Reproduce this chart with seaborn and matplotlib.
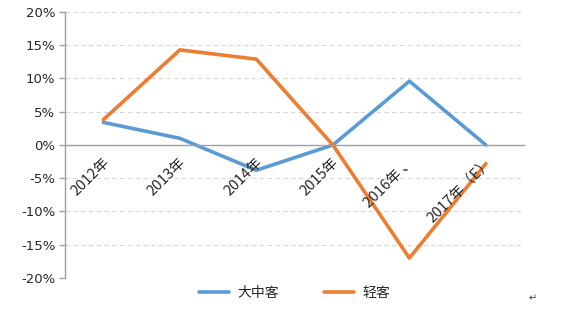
import matplotlib
matplotlib.use("Agg")
import matplotlib.pyplot as plt
import seaborn as sns
import pandas as pd
import numpy as np

categories = ["2012年", "2013年", "2014年", "2015年", "2016年 、", "2017年（E）"]
series_names = ["大中客", "轻客"]
big_mid = [3.4, 1.0, -3.8, 0.0, 9.6, 0.0]
light = [3.8, 14.3, 12.9, 0.0, -17.0, -2.8]
yticks = [-20, -15, -10, -5, 0, 5, 10, 15, 20]
colors = ["#5B9BD5", "#ED7D31"]

sns.set_theme(style="white")
plt.rcParams["font.family"] = ["DejaVu Sans", "Noto Sans CJK SC"]

df = pd.DataFrame({
    "year": categories * 2,
    "value": big_mid + light,
    "series": [series_names[0]] * len(categories) + [series_names[1]] * len(categories),
})

fig = plt.figure(figsize=(5.76, 3.09), dpi=100)
ax = fig.add_axes([0.113, 0.1003, 0.797, 0.861])

sns.lineplot(data=df, x="year", y="value", hue="series", palette=colors,
             linewidth=2.6, ax=ax, sort=False, legend=True)

ax.set_xlim(-0.5, len(categories) - 0.5)
ax.set_ylim(-20, 20)
ax.set_yticks(yticks)
ax.set_yticklabels([f"{v}%" for v in yticks], fontsize=9.5, color="#262626")
for v in yticks:
    if v != 0:
        ax.axhline(v, color="#D6D6D6", linestyle=(0, (4, 3)), linewidth=0.8, zorder=0)

ax.spines["bottom"].set_position(("data", 0))
ax.spines["bottom"].set_color("#A0A0A0")
ax.spines["left"].set_color("#A0A0A0")
ax.spines["bottom"].set_linewidth(1.0)
ax.spines["left"].set_linewidth(1.0)
ax.spines["top"].set_visible(False)
ax.spines["right"].set_visible(False)
ax.set_xticks(np.arange(-0.5, len(categories), 1.0))
ax.set_xticklabels([])
ax.tick_params(axis="x", direction="out", length=4, color="#A0A0A0", width=1.0)
ax.tick_params(axis="y", direction="out", length=4, color="#A0A0A0", width=1.0, pad=3, left=True)
ax.set_xlabel("")
ax.set_ylabel("")

for i, lab in enumerate(categories):
    ax.annotate(lab, xy=(i, 0), xytext=(-1, -7), textcoords="offset points",
                rotation=45, rotation_mode="anchor", ha="right", va="top",
                fontsize=10.5, color="#262626",
                family=["Noto Sans CJK SC", "DejaVu Sans"])

handles, labels = ax.get_legend_handles_labels()
ax.legend(handles, labels, loc="center", bbox_to_anchor=(0.5115, 0.052),
          bbox_transform=fig.transFigure, ncol=2, frameon=False,
          prop={"family": ["Noto Sans CJK SC", "DejaVu Sans"], "size": 10},
          handlelength=2.2, columnspacing=3.2, handletextpad=0.6)
for lh in ax.get_legend().get_lines():
    lh.set_linewidth(2.6)

fig.text(0.918, 0.025, "↵", fontsize=7, color="#404040")

fig.savefig("out.png", dpi=100)
